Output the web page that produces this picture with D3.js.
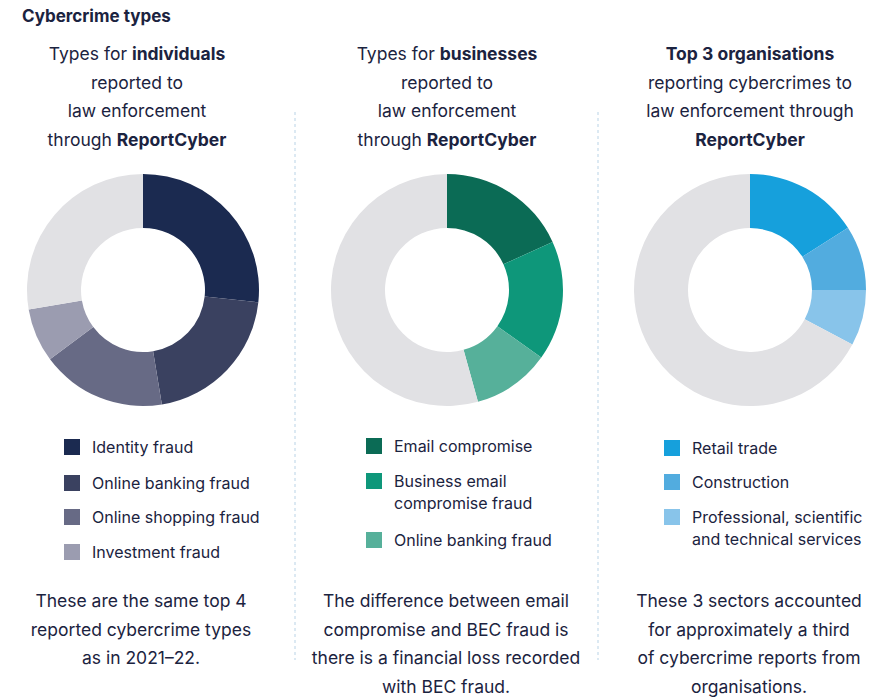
<!DOCTYPE html><html><head><meta charset="utf-8"><script src="https://cdn.jsdelivr.net/npm/d3@7"></script>
<style>body{margin:0;background:#fff;font-family:Inter,"Noto Sans",sans-serif;color:#1b2340}</style></head><body><svg id="c" width="895" height="697"></svg>
<script>
const indLabels=["Identity fraud","Online banking fraud","Online shopping fraud","Investment fraud"];
const indValues=[26.7,20.7,17.4,7.5];
const indColors=["#1b2a50","#3a4160","#676a85","#9b9cb0"];
const busLabels=[["Email compromise"],["Business email","compromise fraud"],["Online banking fraud"]];
const busValues=[18.2,16.7,10.8];
const busColors=["#0b6b55","#0e977a","#56b09a"];
const orgLabels=[["Retail trade"],["Construction"],["Professional, scientific","and technical services"]];
const orgValues=[16,9,7.8];
const orgColors=["#16a0dc","#52acdf","#88c4ea"];
const restColor="#e1e1e4";
const svg=d3.select("#c");
svg.append("text").attr("x",22).attr("y",22).attr("font-size",17).attr("font-weight",700).attr("fill","#1b2340").text("Cybercrime types");
[295,598].forEach(x=>svg.append("line").attr("x1",x).attr("x2",x).attr("y1",112).attr("y2",660).attr("stroke","#b9d3e6").attr("stroke-dasharray","3,3"));
function title(cx,lines){lines.forEach((l,i)=>{const t=svg.append("text").attr("x",cx).attr("y",60+i*28.5).attr("text-anchor","middle").attr("font-size",17.5).attr("fill","#1b2340");l.forEach(([s,b])=>t.append("tspan").attr("font-weight",b?700:400).text(s));});}
title(137,[[["Types for ",0],["individuals",1]],[["reported to",0]],[["law enforcement",0]],[["through ",0],["ReportCyber",1]]]);
title(447,[[["Types for ",0],["businesses",1]],[["reported to",0]],[["law enforcement",0]],[["through ",0],["ReportCyber",1]]]);
title(750,[[["Top 3 organisations",1]],[["reporting cybercrimes to",0]],[["law enforcement through",0]],[["ReportCyber",1]]]);
function donut(cx,vals,cols){const data=vals.map((v,i)=>({v,c:cols[i]}));data.push({v:100-d3.sum(vals),c:restColor});
 const pie=d3.pie().sort(null).value(d=>d.v);const arc=d3.arc().innerRadius(62).outerRadius(116);
 svg.append("g").attr("transform",`translate(${cx},290)`).selectAll("path").data(pie(data)).join("path").attr("d",arc).attr("fill",d=>d.data.c);}
donut(143,indValues,indColors);donut(447,busValues,busColors);donut(750,orgValues,orgColors);
function legend(x,ys,labels,cols){labels.forEach((l,i)=>{svg.append("rect").attr("x",x).attr("y",ys[i]-8).attr("width",16).attr("height",16).attr("fill",cols[i]);
 (Array.isArray(l)?l:[l]).forEach((s,j)=>svg.append("text").attr("x",x+28).attr("y",ys[i]+6+j*22).attr("font-size",16).attr("fill","#1b2340").text(s));});}
legend(64,[447,483,517,552],indLabels,indColors);
legend(366,[446,481,540],busLabels,busColors);
legend(664,[448,482,517],orgLabels,orgColors);
function foot(cx,lines){lines.forEach((l,i)=>svg.append("text").attr("x",cx).attr("y",607+i*28.5).attr("text-anchor","middle").attr("font-size",17.5).attr("fill","#1b2340").text(l));}
foot(141,["These are the same top 4","reported cybercrime types","as in 2021–22."]);
foot(446,["The difference between email","compromise and BEC fraud is","there is a financial loss recorded","with BEC fraud."]);
foot(749,["These 3 sectors accounted","for approximately a third","of cybercrime reports from","organisations."]);
</script></body></html>
